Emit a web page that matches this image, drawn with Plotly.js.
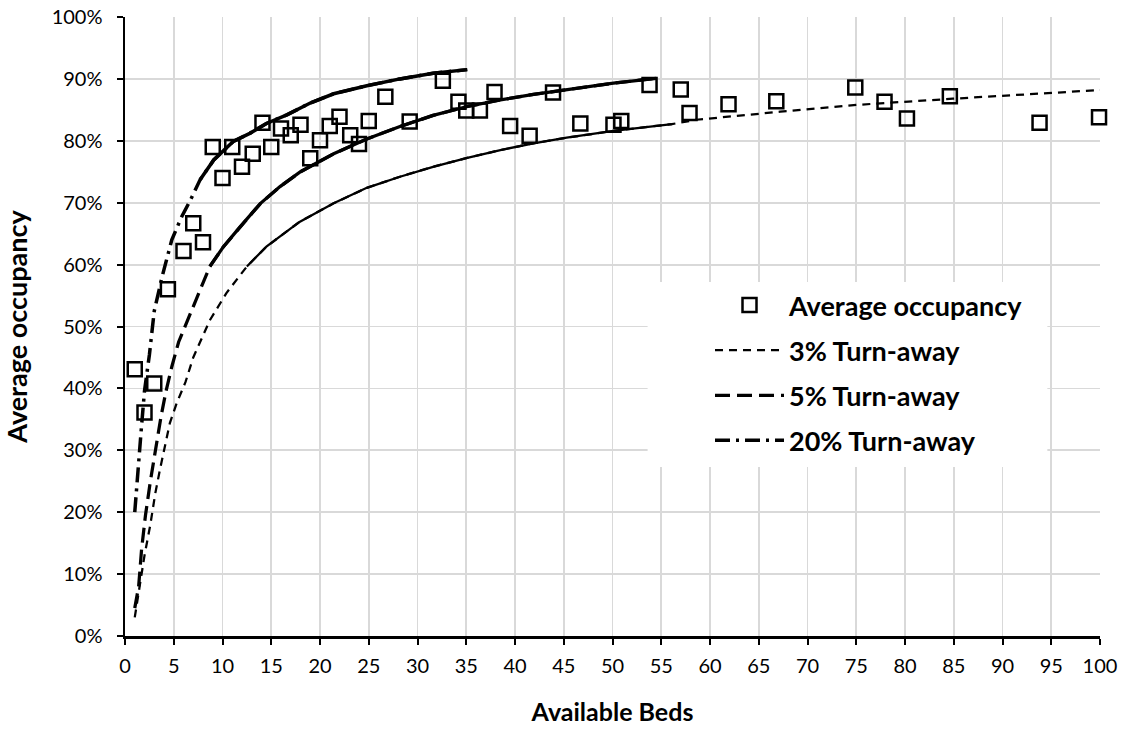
<!DOCTYPE html>
<html><head><meta charset="utf-8">
<script src="https://cdn.plot.ly/plotly-3.0.1.min.js"></script>
<style>html,body{margin:0;padding:0;background:#fff}#chart{width:1123px;height:729px}</style>
</head><body><div id="chart"></div>
<script>
// ---- data ----
const bedsObserved = [1, 2, 3, 4.4, 6, 7, 8, 9, 10, 11, 12, 13.1, 14.1, 15, 16, 17, 18, 19, 20, 21, 22, 23.1, 24, 25,
  26.7, 29.2, 32.6, 34.2, 35, 36.4, 37.9, 39.5, 41.5, 43.9, 46.7, 50.1, 50.9, 53.8, 57, 57.9, 61.9, 66.8, 74.9,
  77.9, 80.2, 84.6, 93.8, 99.9];
const occupancyObserved = [43.1, 36.1, 40.8, 56.0, 62.2, 66.7, 63.6, 79.0, 74.0, 79.0, 75.8, 77.9, 82.9, 79.0, 82.0,
  80.9, 82.6, 77.2, 80.1, 82.4, 83.9, 80.9, 79.5, 83.2, 87.1, 83.1, 89.7, 86.3, 84.9, 84.9, 87.9, 82.4, 80.8, 87.8,
  82.8, 82.6, 83.2, 89.0, 88.3, 84.5, 85.9, 86.4, 88.6, 86.3, 83.6, 87.2, 82.9, 83.8];

const beds3 = [1, 1.5, 2, 2.6, 3.1, 3.6, 4.1, 4.6, 5.3, 6.2, 7.0, 8.7, 10.4, 12.5, 14.5, 17.9, 21.4, 24.8, 28.2,
  31.6, 35, 38.5, 41.9, 45.3, 50.1, 56.1, 58.6, 63.8, 67.2, 75, 84.9, 100];
const occ3 = [3, 8, 13, 18, 23, 27, 31, 34.4, 37.6, 41, 45, 51, 55.4, 59.7, 62.9, 66.9, 69.9, 72.4, 74.2,
  75.8, 77.2, 78.5, 79.6, 80.5, 81.6, 82.7, 83.4, 84.2, 84.7, 85.8, 86.8, 88.2];

const beds5 = [1, 1.4, 1.7, 2.1, 2.6, 3.1, 3.7, 4.2, 4.8, 5.5, 7.0, 8.7, 10.1, 11.8, 13.9, 15.9, 18, 21.4, 24.8,
  28.2, 31.6, 35, 38.5, 41.9, 45.3, 50.1, 54.5];
const occ5 = [4.5, 8, 14, 19.5, 25, 30, 35.5, 39.5, 43.5, 47.5, 53.2, 59.7, 62.9, 66.1, 69.9, 72.6, 75, 77.9, 80.3,
  82.3, 84.1, 85.5, 86.6, 87.5, 88.3, 89.3, 90.1];

const beds20 = [1, 1.3, 1.7, 2, 2.5, 3, 3.8, 4.8, 5.8, 6.7, 7.7, 9.1, 11.1, 12.8, 14.5, 16.6, 19, 21.4, 24.8,
  28.2, 31.6, 35.1];
const occ20 = [20, 25.4, 34, 39.6, 45.4, 52.5, 58, 64, 67.7, 70.4, 73.7, 76.9, 79.9, 81.2, 82.8, 84.2, 86.1, 87.6,
  88.9, 90, 90.9, 91.5];

const seriesNames = ['Average occupancy', '3% Turn-away', '5% Turn-away', '20% Turn-away'];
const xTickVals = [0, 5, 10, 15, 20, 25, 30, 35, 40, 45, 50, 55, 60, 65, 70, 75, 80, 85, 90, 95, 100];
const yTickVals = [0, 10, 20, 30, 40, 50, 60, 70, 80, 90, 100];
const xAxisTitle = 'Available Beds';
const yAxisTitle = 'Average occupancy';

// ---- styling ----
const FONT = 'Lato, "Open Sans", sans-serif';
function pick(xs, ys, lo, hi) {
  const ox = [], oy = [];
  xs.forEach((v, i) => { if (v >= lo && v <= hi) { ox.push(v); oy.push(ys[i]); } });
  return {x: ox, y: oy};
}
function curve(xs, ys, name, width, dash, solidRange, group) {
  const base = {type: 'scatter', mode: 'lines', line: {color: '#000', width: width, shape: 'linear'}, cliponaxis: false};
  const dashed = Object.assign({}, base, {x: xs, y: ys, name: name, legendgroup: group,
    line: Object.assign({}, base.line, {dash: dash})});
  const s = pick(xs, ys, solidRange[0], solidRange[1]);
  const solid = Object.assign({}, base, {x: s.x, y: s.y, name: name, showlegend: false, legendgroup: group, hoverinfo: 'skip'});
  return [dashed, solid];
}

const traces = [
  {type: 'scatter', mode: 'markers', x: bedsObserved, y: occupancyObserved, name: seriesNames[0], legendgroup: 'g0',
   marker: {symbol: 'square-open', size: 14, color: '#000', line: {width: 2.5, color: '#000'}}, cliponaxis: false},
  ...curve(beds3, occ3, seriesNames[1], 2.25, '8px,6px', [12.5, 56.1], 'g1'),
  ...curve(beds5, occ5, seriesNames[2], 3.25, '15px,7px', [8.7, 60], 'g2'),
  ...curve(beds20, occ20, seriesNames[3], 3.5, '15px,6px,3px,6px', [7.7, 40], 'g3'),
];

const layout = {
  width: 1123, height: 729,
  margin: {l: 125, r: 23, t: 17, b: 93},
  paper_bgcolor: '#fff', plot_bgcolor: '#fff',
  font: {family: FONT, color: '#000', size: 20},
  showlegend: true,
  legend: {
    x: 585 / 975, xanchor: 'left', y: (636 - 281) / 619, yanchor: 'top',
    bgcolor: 'rgba(0,0,0,0)', borderwidth: 0, itemwidth: 69,
    font: {family: FONT, size: 27, weight: 'bold', color: '#000'},
    tracegroupgap: 7, traceorder: 'grouped', itemclick: false
  },
  shapes: [{type: 'rect', xref: 'x', yref: 'y', x0: 53.6, x1: 94.6, y0: 27.3, y1: 57.2,
    fillcolor: '#fff', line: {width: 0}, layer: 'between'}],
  xaxis: {
    range: [0, 100], tickvals: xTickVals, ticktext: xTickVals.map(String),
    showgrid: true, gridcolor: '#d9d9d9', gridwidth: 1.8,
    showline: true, linecolor: '#000', linewidth: 2.5,
    ticks: 'outside', ticklen: 6, tickwidth: 2, tickcolor: '#000',
    tickfont: {family: FONT, size: 20, color: '#000'}, ticklabelstandoff: 4,
    zeroline: false, fixedrange: true,
    title: {text: xAxisTitle, font: {family: FONT, size: 25, weight: 'bold', color: '#000'}, standoff: 28}
  },
  yaxis: {
    range: [0, 100], tickvals: yTickVals, ticktext: yTickVals.map(v => v + '%'),
    showgrid: true, gridcolor: '#d9d9d9', gridwidth: 1.8,
    showline: true, linecolor: '#000', linewidth: 2.5,
    ticks: 'outside', ticklen: 6, tickwidth: 2, tickcolor: '#000',
    tickfont: {family: FONT, size: 20, color: '#000'}, ticklabelstandoff: 10,
    zeroline: false, fixedrange: true,
    title: {text: yAxisTitle, font: {family: FONT, size: 27, weight: 'bold', color: '#000'}, standoff: 16}
  }
};

Plotly.newPlot('chart', traces, layout, {displayModeBar: false, staticPlot: true});
</script></body></html>
